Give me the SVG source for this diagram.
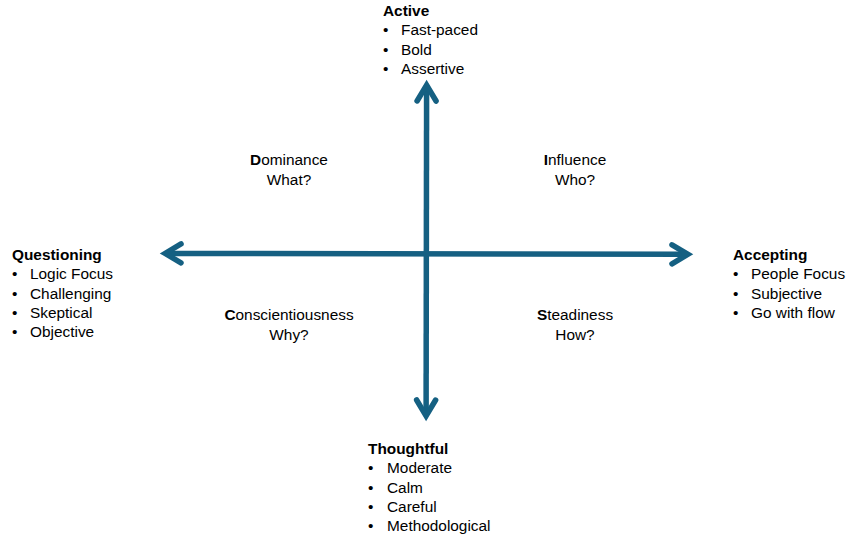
<svg xmlns="http://www.w3.org/2000/svg" width="857" height="544" viewBox="0 0 857 544">
<style>
text{font-family:"Liberation Sans",Arial,sans-serif;font-size:15.4px;fill:#000}
.h{font-weight:bold}
.c{text-anchor:middle}
.ax{stroke:#156082;stroke-width:5.5;fill:none;marker-start:url(#ah);marker-end:url(#ah)}
</style>
<defs>
<marker id="ah" markerUnits="userSpaceOnUse" orient="auto-start-reverse" refX="0" refY="0" markerWidth="40" markerHeight="40" viewBox="-20 -20 40 40" overflow="visible">
<path d="M-13,-9.5 L2.9,0 L-13,9.5" fill="none" stroke="#156082" stroke-width="5.5" stroke-linecap="round" stroke-linejoin="miter"/>
</marker>
</defs>
<rect width="857" height="544" fill="#fff"/>
<g id="connectors">
<path class="ax" d="M168,253.4 L685,254.3"/>
<path class="ax" d="M426.6,88 L426.1,413"/>
</g>
<g id="active">
<text x="383" y="16" class="h">Active</text>
<text x="383" y="35">•</text><text x="401" y="35">Fast-paced</text>
<text x="383" y="54.5">•</text><text x="401" y="54.5">Bold</text>
<text x="383" y="74">•</text><text x="401" y="74">Assertive</text>
</g>
<g id="questioning">
<text x="12" y="260" class="h">Questioning</text>
<text x="12" y="279">•</text><text x="30" y="279">Logic Focus</text>
<text x="12" y="299">•</text><text x="30" y="299">Challenging</text>
<text x="12" y="318">•</text><text x="30" y="318">Skeptical</text>
<text x="12" y="337">•</text><text x="30" y="337">Objective</text>
</g>
<g id="accepting">
<text x="733" y="260" class="h">Accepting</text>
<text x="733" y="279">•</text><text x="751" y="279">People Focus</text>
<text x="733" y="299">•</text><text x="751" y="299">Subjective</text>
<text x="733" y="318">•</text><text x="751" y="318">Go with flow</text>
</g>
<g id="thoughtful">
<text x="368" y="454" class="h">Thoughtful</text>
<text x="368" y="473">•</text><text x="387" y="473">Moderate</text>
<text x="368" y="493">•</text><text x="387" y="493">Calm</text>
<text x="368" y="512">•</text><text x="387" y="512">Careful</text>
<text x="368" y="531">•</text><text x="387" y="531">Methodological</text>
</g>
<g id="dominance">
<text x="289" y="165" class="c"><tspan class="h">D</tspan>ominance</text>
<text x="289" y="184.5" class="c">What?</text>
</g>
<g id="influence">
<text x="575" y="165" class="c"><tspan class="h">I</tspan>nfluence</text>
<text x="575" y="184.5" class="c">Who?</text>
</g>
<g id="conscientiousness">
<text x="289" y="320" class="c"><tspan class="h">C</tspan>onscientiousness</text>
<text x="289" y="339.5" class="c">Why?</text>
</g>
<g id="steadiness">
<text x="575" y="320" class="c"><tspan class="h">S</tspan>teadiness</text>
<text x="575" y="339.5" class="c">How?</text>
</g>
</svg>
